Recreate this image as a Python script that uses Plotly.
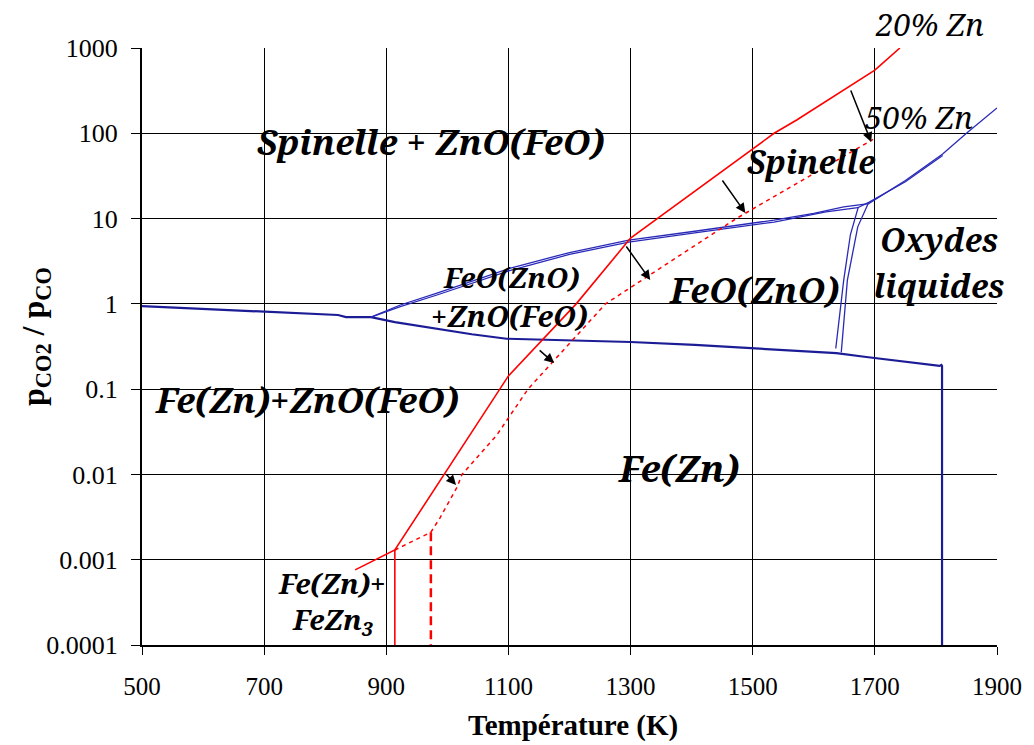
import plotly.graph_objects as go

# ---------------- data ----------------
# 20 % Zn : oxidation limit (solid red)
T_red20 = [849, 914, 1100, 1211, 1300, 1535, 1572, 1700, 1741]
R_red20 = [7.6e-4, 1.3e-3, 0.143, 1.0, 5.9, 100, 143, 550, 1000]
T_red20_v = [914, 914]
R_red20_v = [1.3e-3, 1e-4]
# 50 % Zn (dashed red)
T_red50 = [914, 973, 988, 1016, 1024, 1081, 1132, 1202, 1259, 1473, 1697]
R_red50 = [0.0013, 0.0021, 0.0031, 0.0071, 0.01, 0.029, 0.1, 0.36, 1.0, 10, 85]
T_red50_v = [973, 973]
R_red50_v = [0.0021, 1e-4]
# blue phase boundaries
T_low = [500, 600, 696, 760, 821, 834, 875, 914, 983, 1040, 1097, 1200, 1300,
         1405, 1499, 1580, 1637, 1686, 1750, 1806, 1809, 1810, 1810]
R_low = [0.94, 0.87, 0.80, 0.77, 0.74, 0.70, 0.70, 0.61, 0.51, 0.44, 0.39, 0.37,
         0.357, 0.33, 0.30, 0.28, 0.265, 0.238, 0.21, 0.187, 0.192, 0.187, 1e-4]
T_upA = [875, 923, 983, 1102, 1200, 1297, 1405, 1535, 1600, 1649, 1690, 1750, 1811, 1850, 1900]
R_upA = [0.70, 0.97, 1.34, 2.6, 4.0, 5.6, 7.1, 9.6, 11.5, 13.7, 15, 28, 57, 100, 198]
T_upB = [875, 923, 983, 1102, 1200, 1297, 1405, 1535, 1620, 1672, 1690, 1750, 1811]
R_upB = [0.70, 0.93, 1.27, 2.45, 3.8, 5.3, 6.8, 9.1, 12.0, 13.4, 15.5, 27, 55]
T_vL = [1636, 1649, 1660, 1673]
R_vL = [0.30, 1.9, 6.5, 13.7]
T_vR = [1645, 1655, 1672, 1690]
R_vR = [0.27, 1.9, 8.0, 15.5]

x_ticks = [500, 700, 900, 1100, 1300, 1500, 1700, 1900]
y_ticks = [1e-4, 1e-3, 1e-2, 1e-1, 1, 10, 100, 1000]
y_ticktext = ["0.0001", "0.001", "0.01", "0.1", "1", "10", "100", "1000"]

# ---------------- layout helpers (pixel -> paper) ----------------
W, H = 1034, 745
L, R, T, B = 142, 29, 48, 100
PW, PH = W - L - R, H - T - B


def px(x):
    return (x - L) / PW


def py(y):
    return (H - B - y) / PH


RED = "#ff0000"
BLUE = "#2a2ab8"
NAVY = "#1c1c96"
SERIF = "Liberation Serif"
LABEL = "Noto Serif"

fig = go.Figure()


def line(xs, ys, color, width, dash="solid"):
    fig.add_trace(go.Scatter(x=xs, y=ys, mode="lines", showlegend=False,
                             hoverinfo="skip",
                             line=dict(color=color, width=width, dash=dash)))


line(T_low, R_low, NAVY, 2.2)
line(T_upA, R_upA, BLUE, 1.3)
line(T_upB, R_upB, BLUE, 1.3)
line(T_vL, R_vL, BLUE, 1.3)
line(T_vR, R_vR, BLUE, 1.3)
line(T_red50, R_red50, RED, 1.5, "4px,4px")
line(T_red50_v, R_red50_v, RED, 2.5, "9px,5px")
line(T_red20, R_red20, RED, 1.6)
line(T_red20_v, R_red20_v, RED, 1.6)

# white text boxes covering the grid (between grid and traces)
boxes = [(250, 105, 650, 173), (148, 358, 472, 440), (605, 440, 790, 500),
         (665, 268, 842, 312), (272, 562, 392, 643)]
shapes = []
for x0, y0, x1, y1 in boxes:
    shapes.append(dict(type="rect", xref="paper", yref="paper",
                       x0=px(x0), x1=px(x1), y0=py(y1), y1=py(y0),
                       fillcolor="white", line=dict(width=0), layer="between"))

annotations = []


def label(x, y, text, size, bold=True, italic=True):
    t = text
    if italic:
        t = "<i>" + t + "</i>"
    if bold:
        t = "<b>" + t + "</b>"
    annotations.append(dict(xref="paper", yref="paper", x=px(x), y=py(y),
                            text=t, showarrow=False, xanchor="center",
                            yanchor="middle",
                            font=dict(family=LABEL, size=size, color="black")))


label(434, 141, "Spinelle + ZnO(FeO)", 35)
label(309, 399, "Fe(Zn)+ZnO(FeO)", 35)
label(684, 467, "Fe(Zn)", 37)
label(760, 289, "FeO(ZnO)", 35)
label(817, 161, "Spinelle", 32)
label(946, 240, "Oxydes", 32)
label(947, 285, "liquides", 32)
label(514, 277, "FeO(ZnO)", 28)
label(513, 315, "+ZnO(FeO)", 29)
label(334, 583, "Fe(Zn)+", 28)
label(334, 621, "FeZn<sub>3</sub>", 28)
label(937, 24, "20% Zn", 31, bold=False)
label(926, 117, "50% Zn", 31, bold=False)

# arrows from 20 % Zn curve toward 50 % Zn curve (pixel tail -> head)
arrows = [((857, 89), (878, 142)), ((727, 179), (751, 213)),
          ((630, 245), (655, 280)), ((542, 349), (558, 363)),
          ((448, 473), (459, 485))]
for (tx, ty), (hx, hy) in arrows:
    annotations.append(dict(xref="paper", yref="paper", x=px(hx), y=py(hy),
                            ax=tx - hx, ay=ty - hy, axref="pixel", ayref="pixel",
                            text="", showarrow=True, arrowhead=2, arrowsize=1.3,
                            arrowwidth=1.5, arrowcolor="black"))

# axis titles
annotations.append(dict(xref="paper", yref="paper", x=px(577), y=py(725),
                        text="<b>Température (K)</b>", showarrow=False,
                        xanchor="center", yanchor="middle",
                        font=dict(family=SERIF, size=29, color="black")))
annotations.append(dict(xref="paper", yref="paper", x=px(34), y=py(337),
                        text="<b>p<sub>CO2</sub> / p<sub>CO</sub></b>",
                        showarrow=False, textangle=-90,
                        xanchor="center", yanchor="middle",
                        font=dict(family=SERIF, size=32, color="black")))

fig.update_layout(
    width=W, height=H,
    margin=dict(l=L, r=R, t=T, b=B, pad=0),
    paper_bgcolor="white", plot_bgcolor="white",
    shapes=shapes, annotations=annotations,
    xaxis=dict(range=[500, 1900], tickvals=x_ticks, showgrid=True,
               gridcolor="black", gridwidth=1.3, showline=True,
               linecolor="black", linewidth=2, ticks="outside", ticklen=8,
               tickcolor="black", tickwidth=1.3, zeroline=False,
               tickfont=dict(family=SERIF, size=25, color="black"),
               ticklabelstandoff=10),
    yaxis=dict(type="log", range=[-4, 3], tickvals=y_ticks,
               ticktext=y_ticktext, showgrid=True, gridcolor="black",
               gridwidth=1.3, showline=True, linecolor="black", linewidth=2,
               ticks="outside", ticklen=9, tickcolor="black", tickwidth=1.3,
               zeroline=False,
               tickfont=dict(family=SERIF, size=26, color="black"),
               ticklabelstandoff=8),
)

fig.write_html("out.html")
